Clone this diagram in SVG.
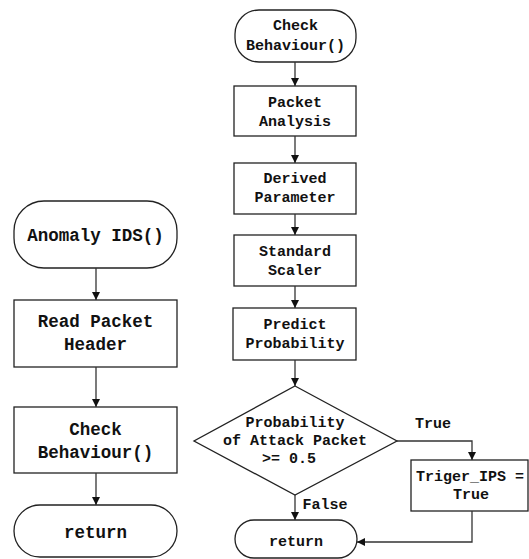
<svg xmlns="http://www.w3.org/2000/svg" width="529" height="559" viewBox="0 0 529 559">
  <defs>
    <marker id="arrow" viewBox="0 0 10 10" refX="10" refY="5" markerWidth="8" markerHeight="8" markerUnits="userSpaceOnUse" orient="auto">
      <path d="M0,0 L10,5 L0,10 z" fill="#111"/>
    </marker>
    <style>
      .shape { fill: #fff; stroke: #222; stroke-width: 1.3; }
      .edge { fill: none; stroke: #333; stroke-width: 1.3; marker-end: url(#arrow); }
      .line { fill: none; stroke: #333; stroke-width: 1.3; }
      .big { font-family: "Liberation Mono", "Courier New", monospace; font-weight: bold; font-size: 17.5px; fill: #111; text-anchor: middle; }
      .small { font-family: "Liberation Mono", "Courier New", monospace; font-weight: bold; font-size: 15px; fill: #111; text-anchor: middle; }
    </style>
  </defs>
  <rect width="529" height="559" fill="#fff"/>

  <!-- main routine -->
  <g id="anomaly-ids">
    <rect class="shape" x="14" y="201" width="163" height="67" rx="30" ry="30"/>
    <text class="big" x="95.5" y="241">Anomaly IDS()</text>
  </g>
  <g id="read-header">
    <rect class="shape" x="14" y="300" width="163" height="67"/>
    <text class="big" x="95.5" y="327">Read Packet</text>
    <text class="big" x="95.5" y="350">Header</text>
  </g>
  <g id="call-check">
    <rect class="shape" x="14" y="407" width="163" height="66"/>
    <text class="big" x="95.5" y="435">Check</text>
    <text class="big" x="95.5" y="458">Behaviour()</text>
  </g>
  <g id="return-main">
    <rect class="shape" x="14" y="505" width="163" height="52" rx="26" ry="26"/>
    <text class="big" x="95.5" y="538">return</text>
  </g>

  <!-- behaviour check routine -->
  <g id="check-behaviour">
    <rect class="shape" x="235" y="10" width="121" height="52" rx="24" ry="24"/>
    <text class="small" x="295.5" y="30">Check</text>
    <text class="small" x="295.5" y="50">Behaviour()</text>
  </g>
  <g id="packet-analysis">
    <rect class="shape" x="234" y="86" width="122" height="50"/>
    <text class="small" x="295" y="107">Packet</text>
    <text class="small" x="295" y="126">Analysis</text>
  </g>
  <g id="derived-parameter">
    <rect class="shape" x="234" y="163" width="122" height="51"/>
    <text class="small" x="295" y="183">Derived</text>
    <text class="small" x="295" y="202">Parameter</text>
  </g>
  <g id="standard-scaler">
    <rect class="shape" x="234" y="235" width="122" height="51"/>
    <text class="small" x="295" y="256">Standard</text>
    <text class="small" x="295" y="275">Scaler</text>
  </g>
  <g id="predict-probability">
    <rect class="shape" x="233" y="308" width="123" height="52"/>
    <text class="small" x="295" y="329">Predict</text>
    <text class="small" x="295" y="348">Probability</text>
  </g>
  <g id="attack-decision">
    <polygon class="shape" points="295,386 397,441 295,495 194,441"/>
    <text class="small" x="295" y="427">Probability</text>
    <text class="small" x="295" y="445">of Attack Packet</text>
    <text class="small" x="289" y="463">&gt;= 0.5</text>
  </g>
  <g id="trigger-ips">
    <rect class="shape" x="411" y="460" width="117" height="51"/>
    <text class="small" x="470" y="481">Triger_IPS =</text>
    <text class="small" x="471" y="499">True</text>
  </g>
  <g id="return-check">
    <rect class="shape" x="235" y="520" width="122" height="38" rx="19" ry="19"/>
    <text class="small" x="296" y="546">return</text>
  </g>

  <g id="connectors">
    <path class="edge" d="M96,268 V300"/>
    <path class="edge" d="M96,367 V407"/>
    <path class="edge" d="M96,473 V505"/>
    <path class="edge" d="M295,62 V86"/>
    <path class="edge" d="M295,136 V163"/>
    <path class="edge" d="M295,214 V235"/>
    <path class="edge" d="M295,286 V308"/>
    <path class="edge" d="M295,360 V386"/>
    <path class="edge" d="M295,495 V520"/>
    <path class="edge" d="M397,441 H472 V460"/>
    <path class="edge" d="M472,511 V542 H357"/>
    <text class="small" x="433" y="428">True</text>
    <text class="small" x="325" y="509">False</text>
  </g>
</svg>
